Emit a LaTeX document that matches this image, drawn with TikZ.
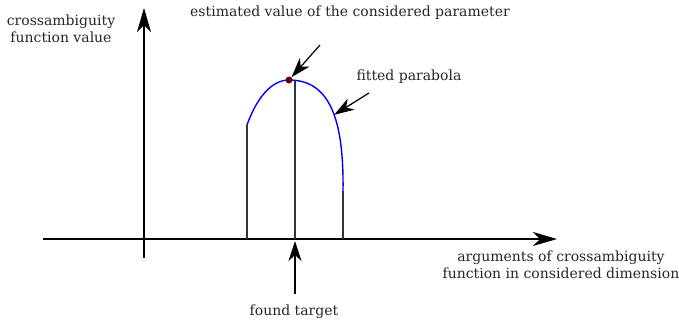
\documentclass[tikz,border=0pt]{standalone}
\usepackage{fontspec}
\setmainfont{DejaVu Serif}
\usetikzlibrary{arrows.meta,positioning}
\tikzset{
  axis line/.style = {-{Stealth[length=24pt,width=14pt,inset=7pt]}, line width=1.3pt},
  pointer/.style   = {-{Stealth[length=20pt,width=13pt,inset=6pt]}, line width=1.2pt},
  stem/.style      = {line width=1.3pt, black!80},
  fitcurve/.style  = {line width=1.4pt, blue},
  peak dot/.style  = {circle, fill=red!40!black, inner sep=0pt, minimum size=7pt},
  txt/.style       = {font=\fontsize{14}{17.5}\selectfont, align=center, text=black!85, inner sep=0pt},
}

\begin{document}
\begin{tikzpicture}[x=1pt,y=-1pt]
  \useasboundingbox (0,0) rectangle (679,327);
  % ---------------- axes --------------------------------------------------
  \coordinate (yfoot) at (144,258);
  \coordinate (ytip)  at (144,8);
  \coordinate (xfoot) at (43,239);
  \coordinate (xtip)  at (557,239);
  \draw[axis line] (yfoot) -- (ytip);
  \draw[axis line] (xfoot) -- (xtip);

  % ---------------- samples and fitted curve -------------------------------
  \draw[stem] (247,239) -- (247,125);
  \draw[stem] (295,239) -- (295,81);
  \draw[stem] (343,239) -- (343,191);
  \draw[fitcurve] (247,125) .. controls (257,97) and (272,80) .. (289,80);
  \draw[fitcurve] (289,80) .. controls (330,80) and (344,120) .. (343,191)
        coordinate[pos=0.55] (onfit);
  \node[peak dot] (peak) at (289,80) {};

  % ---------------- labels ------------------------------------------------
  \node[txt] (ylab) at (61,29) {crossambiguity\\function value};
  \node[txt,anchor=west] (estlab) at (190,13) {estimated value of the considered parameter};
  \node[txt] (fitlab) at (409,77) {fitted parabola};
  \node[txt] (xlab) at (561,265) {arguments of crossambiguity\\function in considered dimension};
  \node[txt] (foundlab) at (294,312) {found target};

  % ---------------- pointers ----------------------------------------------
  \coordinate (estfrom)   at (320,45);
  \coordinate (fitfrom)   at (369,93);
  \coordinate (foundfrom) at (295,294);
  \coordinate (foundto)   at (295,241);
  \draw[pointer] (estfrom) -- (peak);
  \draw[pointer] (fitfrom) -- (onfit);
  \draw[pointer] (foundfrom) -- (foundto);
\end{tikzpicture}
\end{document}
